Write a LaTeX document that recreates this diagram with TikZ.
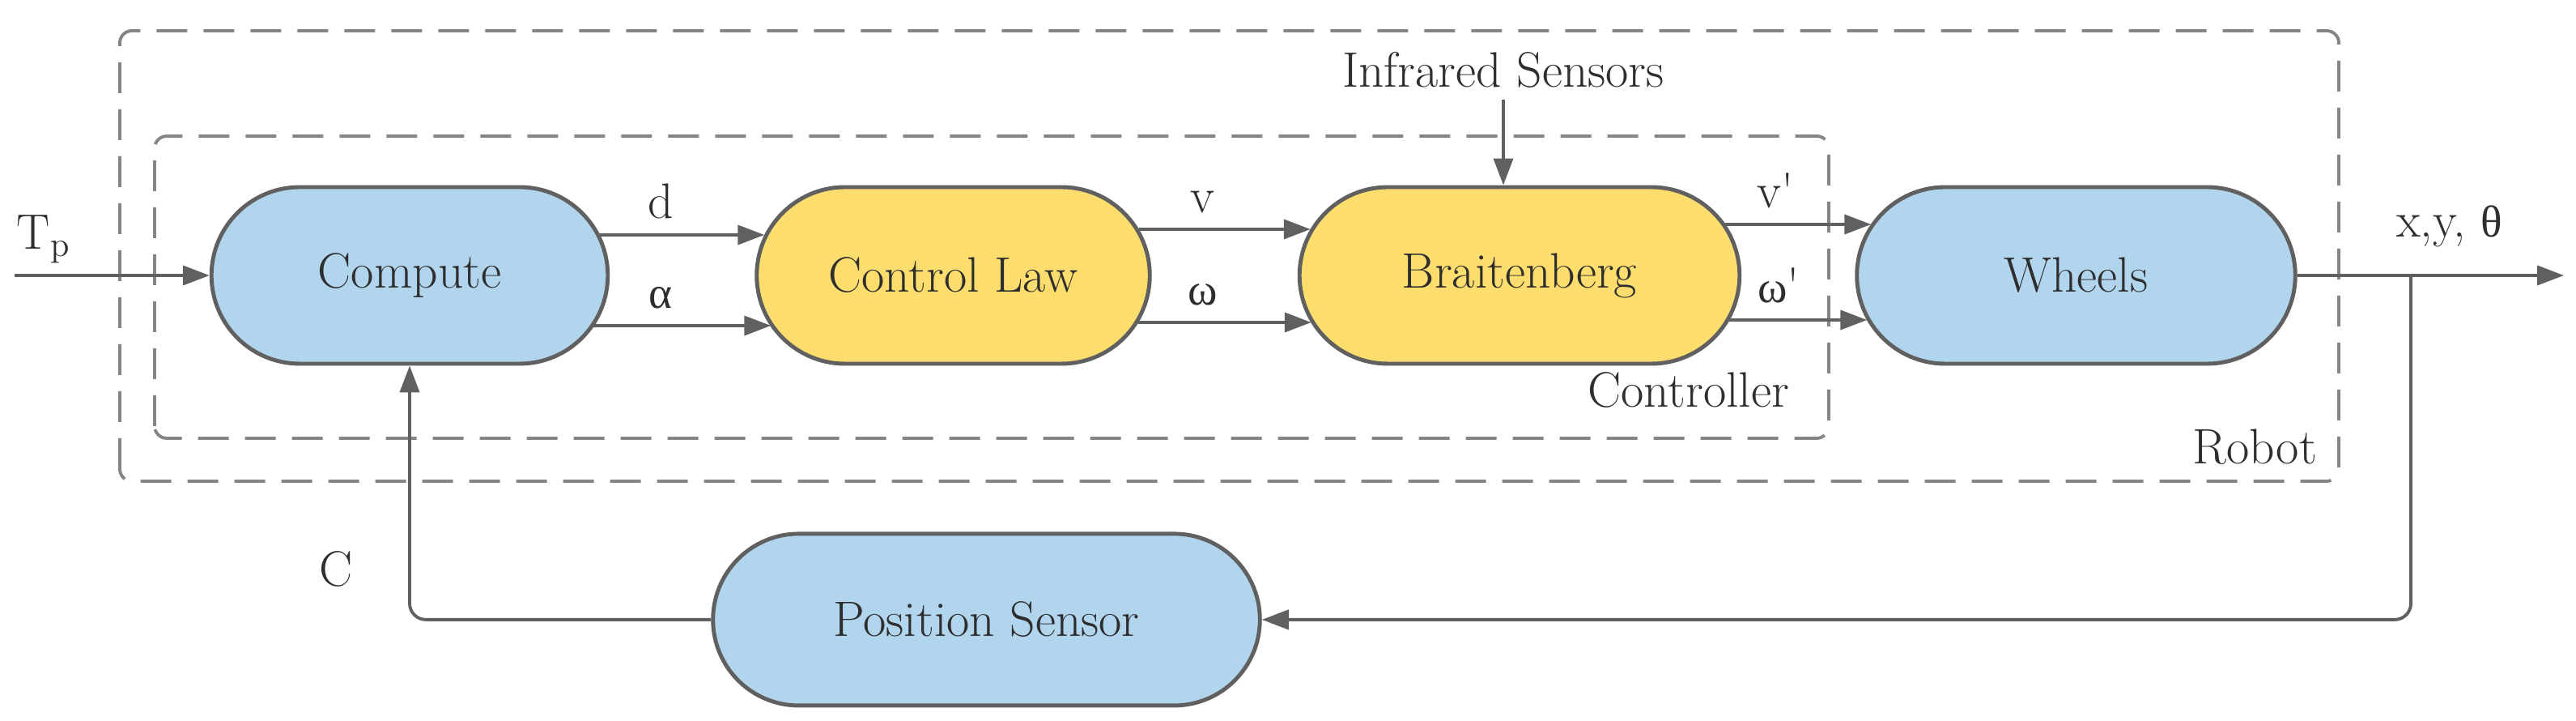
\documentclass[tikz,border=0pt]{standalone}
\usepackage{fontspec}
\usetikzlibrary{positioning}
\usetikzlibrary{shapes.misc}
\usetikzlibrary{arrows.meta}
\newfontfamily\grk[Scale=0.9]{Liberation Serif}
\definecolor{boxblue}{HTML}{B2D5EE}
\definecolor{boxyellow}{HTML}{FEDD6F}
\definecolor{edgegray}{HTML}{606060}
\definecolor{dashgray}{HTML}{858585}
\definecolor{txtgray}{HTML}{2E2E2E}
\tikzset{
  blk/.style={rounded rectangle, draw=edgegray, line width=1.4pt, minimum height=2.18cm, minimum width=#1, text=txtgray},
  arr/.style={draw=edgegray, line width=1.1pt, -{Triangle[length=3.3mm,width=2.4mm]}},
  sig/.style={arr, shorten <=-#1, shorten >=-#1},
  grp/.style={draw=dashgray, line width=1.1pt, dash pattern=on 3.8mm off 2mm, rounded corners=1.5mm},
  lbl/.style={inner sep=1pt, text=txtgray}
}

\begin{document}
\begin{tikzpicture}[font=\fontsize{17.5}{21}\selectfont]
        \useasboundingbox (0,0) rectangle (31.82,8.9);
        % frames
        \draw[grp] (1.48,2.96) rectangle (28.89,8.52);
        \draw[grp] (1.91,3.49) rectangle (22.59,7.22);
        \node[lbl, anchor=south east] (robot) at (28.66,3.12) {Robot};
        \node[lbl, anchor=south east] (ctrl) at (22.14,3.82) {Controller};
        % blocks
        \node[blk=5.13cm, fill=boxblue] (comp) at (5.06,5.5) {Compute};
        \node[blk=5.09cm, fill=boxyellow, right=1.79cm of comp] (law) {Control Law};
        \node[blk=5.67cm, fill=boxyellow, right=1.8cm of law] (brait) {Braitenberg};
        \node[blk=5.65cm, fill=boxblue, right=1.4cm of brait] (wheels) {Wheels};
        \node[blk=6.99cm, fill=boxblue, minimum height=2.12cm, below=2.05cm of law, xshift=4.1mm] (pos) {Position Sensor};
        \node[lbl, above=1.16cm of brait, xshift=-2mm] (ir) {Infrared Sensors};
        \coordinate (tp) at (0.18,5.5);
        \coordinate (out) at (31.67,5.5);
        \coordinate (br) at (29.78,5.5);
        % signals
        \draw[arr] (tp) -- node[lbl, pos=0.15, above=1mm] (tplbl) {T\textsubscript{p}} (comp.west);
        \draw[sig=1.2mm] ([yshift=5mm]comp.east) -- node[lbl, pos=0.35, above=1.5mm] (d) {d} ([yshift=5mm]law.west);
        \draw[sig=2mm] ([yshift=-6.2mm]comp.east) -- node[lbl, pos=0.35, above=1.5mm] (alpha) {\grk α} ([yshift=-6.2mm]law.west);
        \draw[sig=1.6mm] ([yshift=5.7mm]law.east) -- node[lbl, pos=0.35, above=1.5mm] (v) {v} ([yshift=5.7mm]brait.west);
        \draw[sig=1.7mm] ([yshift=-5.8mm]law.east) -- node[lbl, pos=0.35, above=1.5mm] (omega) {\grk ω} ([yshift=-5.8mm]brait.west);
        \draw[sig=2mm] ([yshift=6.3mm]brait.east) -- node[lbl, pos=0.3, above=1.5mm] (vp) {v\textquotesingle} ([yshift=6.3mm]wheels.west);
        \draw[sig=1.5mm] ([yshift=-5.5mm]brait.east) -- node[lbl, pos=0.33, above=1.5mm] (omegap) {{\grk ω}\textquotesingle} ([yshift=-5.5mm]wheels.west);
        \draw[arr, shorten <=1mm] (ir.south) -- (ir.south |- brait.north);
        \draw[arr] (wheels.east) -- node[lbl, pos=0.57, above=3mm] (pose) {x,y, {\grk θ}} (out);
        % feedback
        \draw[arr, rounded corners=2mm] (br) |- (pos.east);
        \draw[arr, rounded corners=2mm] (pos.west) -| node[lbl, pos=0.6, left=6.5mm] (c) {C} (comp.south);
\end{tikzpicture}
\end{document}
